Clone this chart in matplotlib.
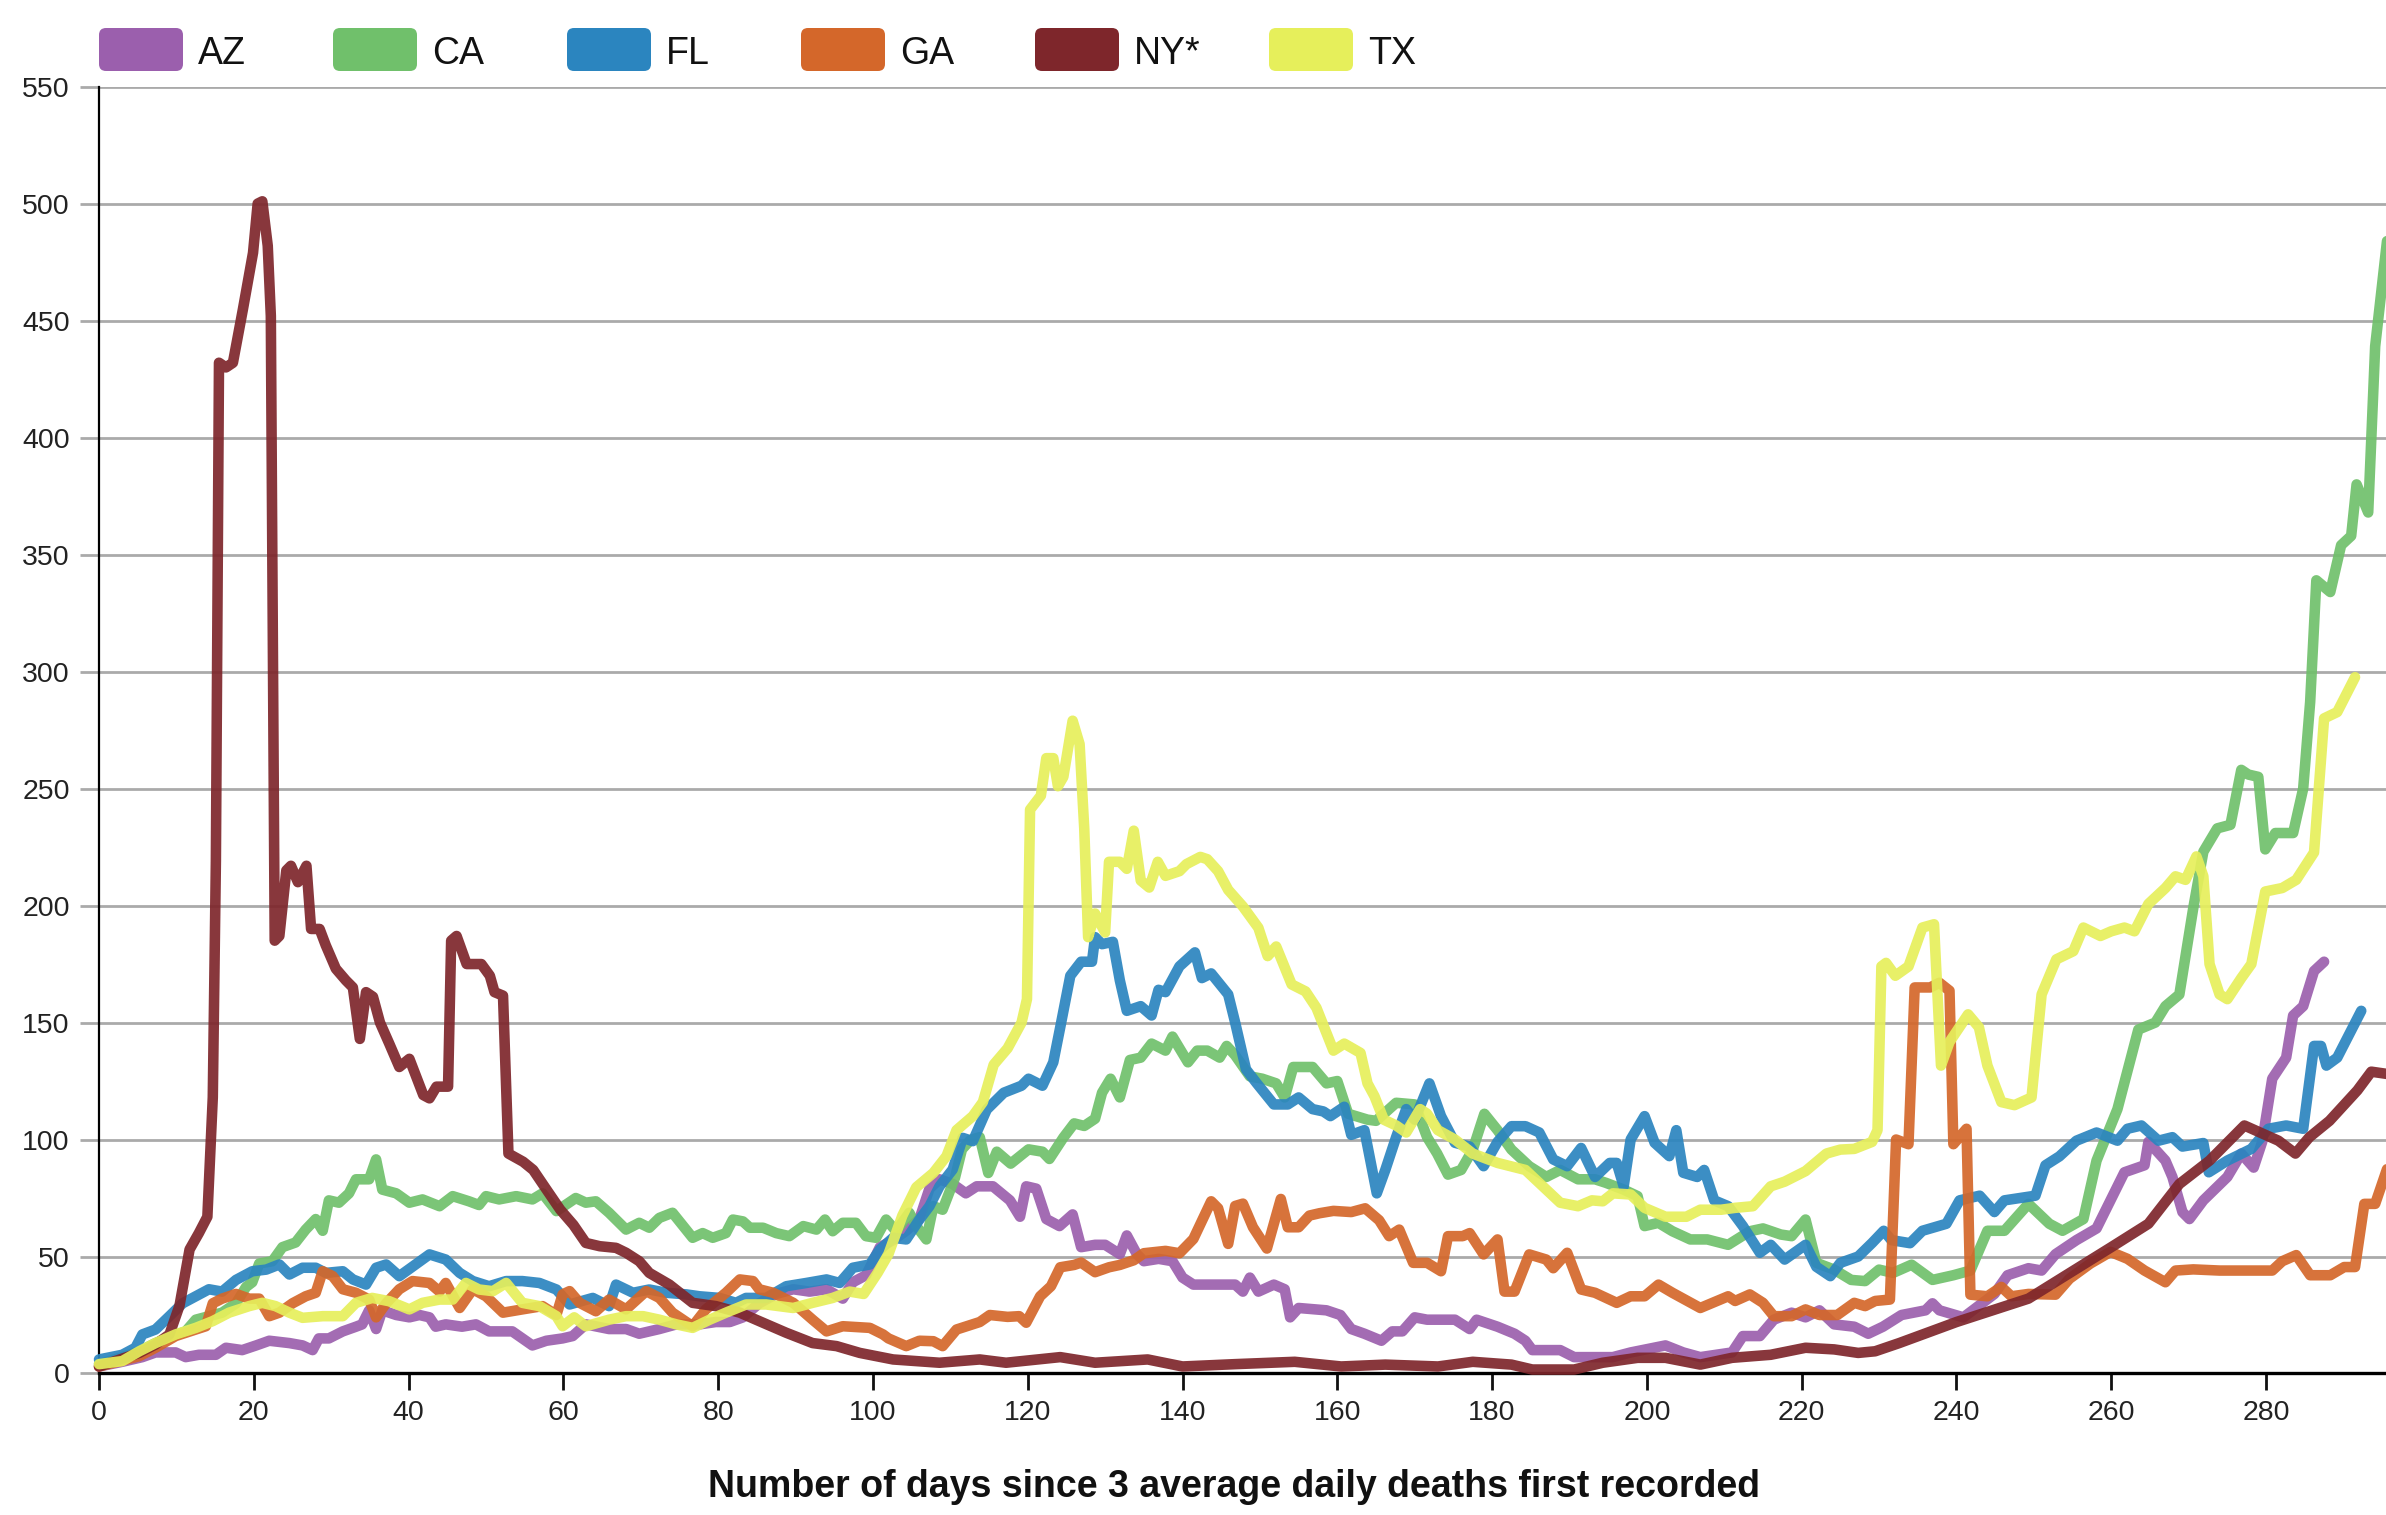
import matplotlib
matplotlib.use("Agg")
import matplotlib.pyplot as plt
from matplotlib.patches import FancyBboxPatch

plt.rcParams["font.family"] = ["Liberation Sans", "DejaVu Sans"]

# average daily deaths, (day, value)
states = ["AZ", "CA", "FL", "GA", "NY*", "TX"]
colors = ["#9b5fad", "#70c06b", "#2b85bf", "#d4672a", "#7e262b", "#e6ef5b"]

az = [(0, 3), (3, 5), (5.6, 7), (7.3, 9), (9.9, 9), (11.2, 7), (12.9, 8), (15.1, 8), (16.4, 11),
      (18.5, 10), (20.3, 12), (22, 14), (24.6, 13), (26.3, 12), (27.6, 10), (28.4, 15), (29.7, 15),
      (31.5, 18), (33.2, 20), (34, 21), (34.9, 27), (35.8, 19), (36.6, 27), (38.4, 25), (40.1, 24),
      (41.4, 25), (42.7, 24), (43.5, 20), (44.8, 21), (46.9, 20), (48.7, 21), (50.4, 18), (53.4, 18),
      (54.7, 15), (56, 12), (57.8, 14), (59.9, 15), (61.2, 16), (62.9, 21), (65.9, 19), (68.1, 19),
      (69.8, 17), (72.4, 19), (74.6, 21), (77.6, 21), (79.7, 22), (81.5, 22), (83.2, 24), (85.3, 30),
      (87.5, 34), (89.7, 36), (91.8, 35), (94, 36), (96.1, 32), (97.4, 39), (99.1, 42), (100.9, 54),
      (102.6, 57), (104.3, 61), (106, 66), (107.3, 79), (108.6, 83), (110.3, 81), (112, 77),
      (113.4, 80), (115.5, 80), (117.7, 74), (119, 67), (119.8, 80), (121.1, 79), (122.4, 66),
      (124.1, 63), (125.8, 68), (126.9, 54), (128.7, 55), (130, 55), (131.9, 51), (132.8, 59),
      (134.1, 51), (135, 48), (136.9, 49), (138.7, 48), (140, 41), (141.4, 38), (146.8, 38),
      (147.8, 35), (148.7, 41), (149.8, 35), (151.8, 38), (153.2, 36), (153.9, 24), (155, 28),
      (158.6, 27), (160.4, 25), (161.8, 19), (163.5, 17), (165.7, 14), (167.1, 18), (168.4, 18),
      (170, 24), (171.6, 23), (175.2, 23), (177.1, 19), (178, 23), (180.7, 20), (182.9, 17),
      (184.3, 14), (185.2, 10), (188.8, 10), (190.6, 7), (195.6, 7), (197.9, 9), (202.4, 12),
      (204.7, 9), (206.9, 7), (211, 9), (212.4, 16), (214.6, 16), (216.4, 23), (218.7, 26),
      (220.5, 24), (222.3, 27), (224.2, 21), (226.8, 20), (228.6, 17), (230.5, 20), (232.9, 25),
      (236, 27), (236.9, 30), (237.8, 27), (240.9, 24), (244.9, 34), (246.6, 42), (249.3, 45),
      (251, 44), (252.8, 51), (255.5, 57), (258.1, 62), (259.9, 74), (261.7, 86), (264.3, 89),
      (264.8, 99), (267, 91), (267.9, 84), (269.2, 69), (270.1, 66), (271.9, 74), (275, 84),
      (276.8, 94), (278.4, 88), (279.5, 99), (280.8, 126), (282.6, 135), (283.5, 153), (284.8, 157),
      (286.2, 172), (287.5, 176)]

ca = [(0, 4), (3, 7), (5.2, 9.5), (7.3, 13), (9.5, 16), (11.2, 18), (12.5, 23), (14.2, 24.5),
      (15.9, 26), (17.7, 30), (19, 37), (19.8, 39), (20.7, 47), (22.4, 48), (23.7, 54), (25.4, 56),
      (26.7, 61.5), (28, 66), (28.9, 61), (29.7, 74), (31, 73), (32.3, 77), (33.2, 83), (34.9, 83),
      (35.8, 91.5), (36.6, 78.6), (38.4, 77), (40.1, 73), (41.8, 74.4), (44, 71.5), (45.7, 75.8),
      (47.8, 73.6), (49.1, 72), (50, 75.8), (51.7, 74.4), (53.9, 75.8), (56, 74.4), (57.3, 77),
      (59.1, 69.4), (61.6, 75), (62.9, 73), (64.2, 73.6), (65.9, 68.7), (68.1, 61.5), (69.8, 64.4),
      (71.1, 62.3), (72.4, 66.5), (74.1, 68.7), (76.7, 58), (78, 60), (79.3, 58), (81, 60),
      (81.9, 65.8), (83.2, 65), (84.1, 62.3), (85.8, 62.3), (87.5, 60), (89.2, 58.7), (91, 63),
      (92.7, 61.5), (93.8, 65.8), (94.8, 60.8), (96.1, 64.4), (97.8, 64.4), (99.1, 58.7),
      (100.4, 58), (101.7, 65.8), (103, 60.8), (104.7, 68.7), (105.6, 63), (106.9, 57.3),
      (107.8, 71.5), (109, 70), (110.6, 83.7), (111.5, 95.8), (112.6, 99.8), (113.8, 101),
      (114.9, 85.7), (116, 94.8), (117.8, 89.7), (120.1, 95.8), (121.9, 94.8), (122.8, 91.7),
      (124.6, 100.8), (126, 106.9), (127.3, 105.8), (128.7, 108.9), (129.6, 120), (130.7, 126),
      (131.9, 118), (133.2, 134), (134.6, 135), (136, 141), (137.8, 138), (138.7, 144),
      (140.7, 133), (141.9, 138), (143.2, 138), (144.8, 135), (145.7, 140), (146.8, 136),
      (148.7, 127), (150.3, 126), (152.1, 124), (153.2, 118), (154.3, 131), (156.8, 131),
      (158.6, 124), (160, 125), (161.4, 111), (163.9, 108.5), (165, 108), (167.6, 115.7),
      (170, 115), (171.6, 101), (172.9, 94), (174.3, 85), (176, 87), (177.5, 95.7), (179, 111),
      (180.7, 104), (182.5, 95.7), (184.8, 88.6), (187, 84), (188.8, 87), (191.1, 83), (193.3, 83),
      (194.7, 81.5), (197, 78.6), (198.8, 75.8), (199.7, 63), (201.5, 64.4), (203.3, 60.8),
      (205.6, 57.3), (207.8, 57.3), (210.5, 55), (213.3, 60.8), (215, 62), (217.3, 59.4),
      (218.7, 58.7), (220.5, 65.8), (221.9, 47.3), (224.2, 44.4), (226.4, 40), (228.2, 39.5),
      (230, 44.4), (231.8, 43), (234.2, 46.5), (236.9, 40), (239.6, 42), (241.8, 44), (244, 61),
      (246.2, 61), (249.3, 72.5), (252, 64), (253.7, 61), (256.4, 66), (258.1, 91), (260.8, 113),
      (263.5, 147), (265.7, 150), (267, 157), (268.8, 162), (270.6, 199), (271.9, 223),
      (273.7, 233), (275.4, 234.5), (276.8, 258), (277.7, 256), (279, 255), (279.9, 224),
      (281.2, 231), (283.5, 231), (284.8, 250), (285.7, 287), (286.5, 339), (288.3, 334),
      (289.7, 354), (291, 358), (291.7, 380), (293.2, 368), (294.1, 439), (295.8, 489)]

fl = [(0, 6), (3, 8), (4.7, 11), (5.6, 16.7), (7.3, 18.8), (9.1, 24.5), (10.8, 30), (12.5, 33),
      (14.2, 36), (15.9, 35), (17.7, 40), (19.8, 43.7), (21.6, 44.4), (23.3, 46.6), (24.6, 42.3),
      (26.3, 45.2), (28, 45.2), (29.3, 43), (31.5, 43.7), (32.8, 40.2), (34.5, 38), (35.8, 45.2),
      (37.1, 46.6), (38.8, 41.6), (40.9, 46.6), (42.7, 50.9), (44.8, 48.7), (46.6, 43), (48.3, 39.5),
      (50.4, 37.3), (52.6, 39.5), (54.7, 39.5), (56.9, 38.7), (59.1, 35.9), (60.8, 29.5),
      (63.8, 32.3), (65.9, 28.8), (66.8, 38), (69, 34.5), (71.1, 35.9), (73.3, 34.5), (75.9, 33.8),
      (77.6, 33), (80.2, 32.3), (82.3, 30.2), (83.6, 32.3), (86.2, 32.3), (88.8, 37.3),
      (91.4, 38.7), (94, 40.2), (95.7, 38.7), (97.4, 45.2), (99.6, 46.6), (100.9, 53), (102.6, 58),
      (104.3, 57.3), (106, 65.8), (107.3, 71.5), (108.6, 80), (110.3, 87.2), (111.6, 100.7),
      (112.9, 99.3), (114.7, 112.8), (116.9, 120), (119.2, 123), (120.1, 126), (121.9, 123),
      (123.3, 133), (124.2, 148), (125.5, 170), (126.9, 176), (128.3, 176), (128.7, 186.5),
      (129.6, 183.5), (131, 184.5), (131.9, 168), (132.8, 155), (134.6, 157), (136, 153),
      (136.9, 164), (137.8, 163), (139.6, 174), (141.6, 180), (142.5, 169), (143.7, 171),
      (145.9, 162), (146.8, 150), (148.2, 130), (149.6, 124), (151.8, 115), (153.6, 115),
      (155, 118), (156.8, 113), (158.2, 112), (159.1, 110), (160.9, 114), (161.8, 102),
      (163.5, 104), (165.1, 77), (166.2, 87), (167.6, 101), (168.9, 113), (170, 108.5),
      (171.9, 124), (173.4, 110), (175.2, 98.6), (177.1, 97), (178.9, 88.6), (180.7, 99),
      (182.5, 105.7), (184.3, 105.7), (186.1, 103), (187.9, 91.5), (189.7, 88.6), (191.5, 96.4),
      (193.3, 84), (195.2, 90), (196.1, 90), (197, 80), (197.9, 100), (199.7, 110), (201, 98.6),
      (202.9, 92.9), (203.8, 104), (204.7, 85.8), (206.5, 84), (207.4, 87), (208.7, 74),
      (210.5, 71.5), (212.4, 63), (214.6, 51.6), (216, 55), (217.8, 48.7), (220.5, 55),
      (221.9, 45.6), (223.7, 41.6), (225, 47.3), (227.3, 50), (229.1, 55.8), (230.6, 61),
      (231.6, 57), (234, 55.7), (235.6, 61), (238.7, 64), (240.4, 74), (243, 76), (244.9, 69),
      (246.2, 74), (250.2, 76), (251.5, 89), (253.3, 92.8), (255.5, 99.5), (258.1, 103),
      (260.8, 99.5), (262.1, 104.6), (263.9, 106), (266.1, 99.5), (267.9, 101), (269.2, 97),
      (271.9, 98.5), (272.6, 86), (275, 91), (278.1, 96), (280.3, 104.6), (282.6, 106),
      (284.8, 104.6), (286.2, 140), (287.1, 140), (287.8, 131.6), (289.2, 135), (292.3, 155)]

ga = [(0, 3), (5.2, 7.4), (7.3, 11), (9.9, 16), (12.5, 18.8), (13.8, 20.2), (14.7, 30), (15.9, 32),
      (17.7, 34), (19.4, 32), (20.7, 32), (22, 24.5), (23.3, 26), (25, 30), (26.7, 33), (28, 34.5),
      (28.9, 43.7), (30.2, 41.6), (31.5, 36), (33.2, 34.5), (34.9, 31.6), (35.8, 24), (37.1, 30),
      (38.8, 36), (40.5, 39.5), (42.7, 38.7), (44, 35), (44.8, 38.7), (46.6, 28), (48.3, 36),
      (50, 33), (52.2, 26), (54.7, 27.4), (57.3, 28.8), (59.1, 25), (59.9, 33.8), (60.8, 35.2),
      (62.1, 30.2), (64.2, 26.6), (65.9, 31.6), (68.1, 27.4), (70.7, 35.2), (72.4, 32.3), (74.1, 26),
      (76.7, 20.2), (78.4, 27.4), (81, 34.5), (82.8, 40.2), (84.5, 39.5), (85.3, 36), (87.1, 34.5),
      (89.7, 30.2), (92.2, 23), (94, 18), (96.1, 20.2), (99.6, 19.5), (101.3, 16.7), (102, 15),
      (104.3, 11.7), (106, 14), (107.8, 13.8), (109, 11.7), (110.8, 18.8), (113.8, 22),
      (115.1, 25), (117.4, 24.2), (118.9, 24.5), (119.8, 21.7), (121.6, 33), (123, 37.3),
      (124.2, 45.4), (126, 46.4), (126.9, 47.4), (128.7, 43.3), (130.5, 45.4), (131.9, 46.4),
      (133.7, 48.4), (135, 51.4), (137.8, 52.4), (139.6, 51.4), (141.4, 57.5), (143.7, 73.6),
      (144.6, 70.6), (145.9, 55.4), (146.8, 71.6), (147.8, 72.6), (149.1, 62.5), (150.9, 53.4),
      (152.7, 74.6), (153.6, 62.5), (155, 62.5), (156.4, 67.5), (157.7, 68.5), (159.5, 69.5),
      (161.8, 69), (163.6, 70.6), (165.4, 65.5), (166.7, 58.7), (168, 61.5), (169.8, 47.3),
      (171.6, 47.3), (173.4, 43.7), (174.3, 58.7), (176.2, 58.7), (177.1, 60), (178.9, 50.9),
      (180.7, 57.3), (181.6, 35), (182.9, 35), (184.8, 50.9), (187, 48.7), (187.9, 45),
      (189.7, 51.6), (191.5, 35.9), (193.3, 34.5), (196.1, 30.2), (197.9, 33), (199.7, 33),
      (201.5, 38), (203.3, 34.5), (206.9, 28), (210.5, 33), (211.4, 31), (213.3, 33.8), (215, 30.2),
      (216.4, 24.5), (218.7, 24.5), (220.5, 27.4), (222.3, 25), (224.6, 25), (226.8, 30.2),
      (228.2, 28.8), (229.5, 31), (231.4, 31.6), (232.2, 100), (233.8, 98), (234.6, 165),
      (236.6, 165), (237.8, 167), (239.1, 163.6), (239.6, 98), (241.3, 104.6), (241.8, 33.7),
      (244, 33), (245.8, 37), (247.1, 33), (249.3, 34), (252.8, 33.7), (254.6, 40.5), (257.3, 47),
      (259.9, 52), (262.1, 49), (264.3, 44), (267, 39), (268.3, 44), (270.6, 44.5), (274, 44),
      (277.2, 44), (280.8, 44), (282.1, 48), (283.9, 50.6), (285.7, 42), (288.3, 42), (290.1, 45.5),
      (291.5, 45.5), (292.7, 72.5), (294.1, 72.5), (295.7, 88)]

ny = [(0, 3), (5.2, 8.8), (7.3, 12.4), (9.1, 16.7), (10.4, 29), (11.7, 53), (12.9, 60), (14, 67),
      (14.7, 118), (15.1, 219), (15.5, 432), (16.4, 430), (17.3, 432), (18.6, 455), (19.9, 479),
      (20.5, 500), (21.1, 501), (21.8, 482), (22.2, 452), (22.7, 185), (23.3, 187), (24.2, 215),
      (24.8, 217), (25.7, 210), (26.8, 217), (27.4, 190), (28.5, 190), (29.3, 183), (30.6, 173),
      (31.9, 168), (32.8, 165), (33.7, 143), (34.5, 163), (35.4, 161), (36.3, 150), (37.5, 141),
      (38.8, 131), (40.1, 134.5), (41.9, 119), (42.7, 117.6), (43.6, 122.6), (45.1, 122.6),
      (45.5, 185), (46.2, 187), (47.5, 175), (49.4, 175), (50.5, 170), (51.1, 163), (52.2, 161.5),
      (52.9, 94), (54.8, 90.5), (56.1, 87), (57.8, 78.7), (59.6, 70), (61.3, 63.5), (62.9, 55.8),
      (64.7, 54.4), (66.8, 53.7), (68.1, 51.6), (69.8, 48), (71.1, 43), (73.7, 38), (76.7, 30.2),
      (79.7, 28.8), (82.8, 26), (85.3, 22.4), (88.8, 17.4), (92.2, 13), (95.3, 11.7), (98.3, 8.8),
      (102.6, 6), (108.6, 4.6), (113.8, 6), (117.2, 4.6), (124.2, 7), (128.7, 4.6), (135.5, 6),
      (140, 3), (146.8, 4), (154.5, 5), (160.5, 3), (166.2, 3.8), (173, 3), (177.5, 5),
      (182.5, 3.8), (185.2, 1.7), (190.6, 1.7), (194.3, 4.6), (198.8, 6.7), (202.4, 6.7),
      (206.9, 3.8), (211, 6.7), (216, 8), (220.5, 11), (224.2, 10.3), (227.3, 8.8), (229.5, 9.5),
      (232.6, 13), (240, 22), (249.3, 32), (260, 54), (264.8, 64), (268.8, 81), (272.7, 91),
      (277.2, 106), (281.6, 99.5), (283.8, 94), (285.6, 101), (288.2, 108), (291.8, 121),
      (293.6, 129), (295.7, 128)]

tx = [(0, 4), (3, 5.3), (5.2, 9.5), (7.3, 13), (9.9, 16.7), (12.5, 19.5), (14.7, 22.4), (16.8, 26),
      (19.4, 28.8), (21.1, 30.2), (22.8, 28.8), (24.6, 26), (26.3, 23.8), (28.9, 24.5), (31.5, 24.5),
      (33.2, 30.2), (35.3, 32.3), (37.5, 30.9), (40.1, 27.4), (41.8, 30.2), (44, 31.6), (45.7, 31.6),
      (47.4, 38.7), (49.1, 35.9), (50.9, 35.2), (52.6, 38.7), (54.7, 30.2), (56.9, 28.8),
      (59.1, 24.5), (59.9, 20.2), (61.4, 24), (62.9, 20.2), (65.9, 23), (68.1, 24.5), (70.3, 24.5),
      (72.4, 23), (74.6, 21), (76.7, 19.5), (78.9, 23), (81, 26), (83.6, 29.5), (86.2, 29.5),
      (89.7, 28), (92.2, 30.2), (94.8, 32.3), (97, 35), (98.8, 34), (100.6, 43), (102, 51),
      (103.8, 67.5), (105.6, 79.6), (107.8, 85.7), (109.5, 92.9), (110.8, 104), (112.9, 110),
      (114.2, 116), (115.6, 132), (117.4, 139), (119.2, 150), (119.9, 160), (120.3, 241),
      (121.7, 247), (122.4, 263), (123.3, 263), (123.9, 251), (124.6, 255), (125.8, 279),
      (126.7, 269), (127.3, 233), (127.8, 186.5), (128.7, 196.6), (130, 188.5), (130.5, 218.7),
      (131.9, 218.7), (132.8, 215.7), (133.7, 232), (134.6, 210.7), (135.7, 207.7), (136.8, 218.7),
      (137.8, 212.7), (139.6, 214.7), (140.5, 217.7), (142.3, 220.8), (143.2, 219.8),
      (144.6, 214.7), (145.9, 206.7), (147.8, 199.6), (149.8, 190.5), (151, 178.4), (152.1, 182.5),
      (154.1, 166.3), (155.9, 163.3), (157.3, 156.3), (159.5, 138), (160.9, 141), (163, 137),
      (163.9, 124), (164.8, 118.5), (166, 108.5), (167.6, 106), (168.9, 103), (170.7, 113),
      (171.6, 111), (173, 104), (175.2, 100), (177.5, 94), (180.7, 90), (184.3, 87), (187, 78.6),
      (188.8, 73), (191.1, 71.5), (192.9, 74), (194.3, 73.6), (195.6, 77), (197.9, 76.5),
      (199.7, 70.8), (202.4, 67), (205.1, 67), (206.9, 70), (209.6, 70), (211.4, 70.8),
      (213.7, 71.5), (216, 80), (217.8, 82), (220.5, 86.5), (223.2, 94), (225, 95.7), (226.8, 96),
      (229.1, 99), (229.8, 104), (230.3, 174), (230.9, 175.5), (232.1, 170), (233.8, 174),
      (235.6, 190.6), (237.1, 192), (238, 131.6), (239.1, 141.7), (241.5, 153.5), (242.9, 148),
      (244, 131.6), (245.8, 116), (247.5, 114.7), (249.7, 118), (251, 162), (252.9, 177),
      (255.1, 180.5), (256.4, 190.6), (258.6, 187), (260, 189), (261.7, 190.6), (263, 189),
      (264.8, 200.7), (267, 207.5), (268.3, 212.5), (269.6, 211), (271, 221), (271.9, 212.5),
      (272.7, 175), (274, 162), (275, 160), (276.8, 169), (278.1, 175), (279.9, 206),
      (282.1, 207.5), (283.9, 211), (286.2, 222.7), (287.5, 280), (289.2, 282.7), (291.5, 297.6)]

series = [az, ca, fl, ga, ny, tx]

y_ticks = list(range(0, 551, 50))
x_ticks = list(range(0, 281, 20))
x_label = "Number of days since 3 average daily deaths first recorded"

fig = plt.figure(figsize=(23.86, 15.15), dpi=100)
ax = fig.add_axes([0.0415, 0.0934, 0.9585, 0.8494])

for pts, col in zip(series, colors):
    xs = [p[0] for p in pts]
    ys = [p[1] for p in pts]
    ax.plot(xs, ys, color=col, lw=7.6, alpha=0.92, solid_capstyle="round",
            solid_joinstyle="round", clip_on=False, zorder=3)

ax.set_xlim(0, 295.5)
ax.set_ylim(0, 550)
ax.set_yticks(y_ticks)
ax.set_xticks(x_ticks)
ax.yaxis.grid(True, color="#aaaaaa", lw=2.0)
ax.set_axisbelow(True)
for s in ("top", "right"):
    ax.spines[s].set_visible(False)
ax.spines["left"].set_linewidth(1.6)
ax.spines["bottom"].set_linewidth(2.4)
ax.tick_params(axis="y", length=14, width=2.0, pad=7, labelsize=20.5,
               color="#aaaaaa", labelcolor="#222222")
ax.tick_params(axis="x", length=12, width=2.0, pad=7, labelsize=20.5,
               color="#111111", labelcolor="#222222")
ax.yaxis.get_major_ticks()[-1].tick1line.set_color("#111111")

fig.text(0.517, 0.0119, x_label, ha="center", va="baseline", fontsize=27,
         fontweight="bold", color="#111111")

# legend drawn in pixel coordinates
lax = fig.add_axes([0, 0, 1, 1])
lax.set_xlim(0, 2386)
lax.set_ylim(1515, 0)
lax.axis("off")
for i, (name, col) in enumerate(zip(states, colors)):
    x0 = 99 + i * 234
    lax.add_patch(FancyBboxPatch((x0, 28), 84, 43, boxstyle="round,pad=0,rounding_size=7",
                                 facecolor=col, edgecolor="none"))
    lax.text(x0 + 99, 54, name, ha="left", va="center", fontsize=27, color="#111111")

fig.savefig("out.png", dpi=100)
